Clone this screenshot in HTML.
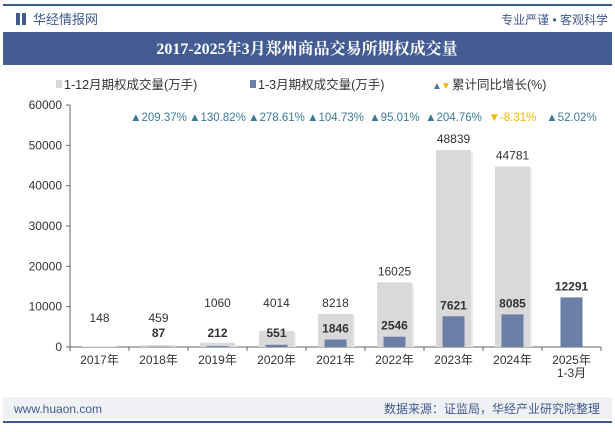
<!DOCTYPE html>
<html><head><meta charset="utf-8"><style>
body{margin:0;width:615px;height:427px;overflow:hidden;background:#fff;font-family:"Liberation Sans","Noto Sans CJK SC",sans-serif;}
</style></head><body>
<svg width="615" height="427" xmlns="http://www.w3.org/2000/svg" id="chart" font-family="Liberation Sans, Noto Sans CJK SC, sans-serif">
<rect x="3" y="4" width="609" height="2" fill="#3f5a8e"/>
<rect x="16" y="13" width="4" height="12" fill="#3f5a8e"/>
<rect x="22" y="13" width="4" height="12" fill="#3f5a8e"/>
<text x="33" y="24" font-size="13" fill="#3f5a8e">华经情报网</text>
<text x="608" y="24" font-size="12" fill="#3f5a8e" text-anchor="end">专业严谨 • 客观科学</text>
<rect x="3" y="32" width="609" height="33" fill="#435c91"/>
<text x="307" y="54" font-size="16" font-weight="bold" fill="#fff" text-anchor="middle" font-family="Liberation Serif, Noto Serif CJK SC, serif">2017-2025年3月郑州商品交易所期权成交量</text>
<g font-size="12.5" fill="#333">
<rect x="56" y="80" width="6" height="8" fill="#d9d9d9"/><text x="64" y="89">1-12月期权成交量(万手)</text>
<rect x="250" y="80" width="6" height="8" fill="#6a7ea6"/><text x="258" y="89">1-3月期权成交量(万手)</text>
<text x="432" y="89" fill="#3b7a98" font-size="10">▲</text><text x="441" y="89" fill="#f5b400" font-size="10">▼</text><text x="452" y="89">累计同比增长(%)</text>
</g>
<g id="plot"></g>
<rect x="3" y="397" width="609" height="22" fill="#f0f1f4"/>
<text x="14" y="413" font-size="12" fill="#3f5a8e">www.huaon.com</text>
<text x="600" y="413" font-size="12" fill="#3f5a8e" text-anchor="end">数据来源：证监局，华经产业研究院整理</text>
<rect x="3" y="421" width="609" height="2" fill="#3f5a8e"/>
</svg>
<script>
const categories=["2017年","2018年","2019年","2020年","2021年","2022年","2023年","2024年","2025年"];
const annualValues=[148,459,1060,4014,8218,16025,48839,44781,null];
const q1Values=[null,87,212,551,1846,2546,7621,8085,12291];
const growthLabels=["209.37%","130.82%","278.61%","104.73%","95.01%","204.76%","-8.31%","52.02%"];
const yTicks=[0,10000,20000,30000,40000,50000,60000];
const NS="http://www.w3.org/2000/svg";
const g=document.getElementById('plot');
const x0=70,x1=601,y0=347,yTop=105,yMax=60000;
const step=(x1-x0)/categories.length;
const y=v=>y0-(v/yMax)*(y0-yTop);
const cx=i=>x0+step*(i+0.5);
function el(t,a,txt){const e=document.createElementNS(NS,t);for(const k in a)e.setAttribute(k,a[k]);if(txt!=null)e.textContent=txt;g.appendChild(e);return e;}
let ax=el('line',{x1:x0,y1:yTop,x2:x0,y2:y0,stroke:'#666'});

let bx=el('line',{x1:x0,y1:y0,x2:x1,y2:y0,stroke:'#666'});

yTicks.forEach(v=>{el('line',{x1:x0-4,y1:y(v),x2:x0,y2:y(v),stroke:'#666'});
const t=el('text',{x:x0-8,y:y(v)+4,'font-size':12,'text-anchor':'end',fill:'#333'},v);
});
for(let i=0;i<=categories.length;i++)el('line',{x1:x0+step*i,y1:y0,x2:x0+step*i,y2:y0+4,stroke:'#666'});
categories.forEach((c,i)=>{
const t=el('text',{x:cx(i),y:y0+17,'font-size':12,'text-anchor':'middle',fill:'#333'},c);

const a=annualValues[i];
if(a!=null){el('rect',{x:cx(i)-17.5+2,y:y(a)+2,width:35,height:y0-y(a)-2,fill:'#ececec'});
const r=el('rect',{x:cx(i)-17.5,y:y(a),width:35,height:y0-y(a),fill:'#d9d9d9'});

const l=el('text',{x:cx(i),y:Math.min(y(a)-7,y0-24-16),'font-size':12,'text-anchor':'middle',fill:'#333'},a);
if(i<2)l.setAttribute('y',y0-25);
}
const q=q1Values[i];
if(q!=null){const r=el('rect',{x:cx(i)-11,y:y(q),width:22,height:y0-y(q),fill:'#6a7ea6'});

const l=el('text',{x:cx(i),y:Math.min(y(q)-7,y0-10),'font-size':12,'font-weight':'bold','text-anchor':'middle',fill:'#333'},q);
}
});
const ct=el('text',{x:cx(8),y:y0+30,'font-size':12,'text-anchor':'middle',fill:'#333'},'1-3月');

growthLabels.forEach((s,k)=>{const i=k+1;const neg=s.startsWith('-');
const t=el('text',{x:cx(i),y:121,'font-size':11.5,'text-anchor':'middle',fill:neg?'#f5b400':'#3b7a98'},(neg?'▼':'▲')+s);
});
</script>
</body></html>
